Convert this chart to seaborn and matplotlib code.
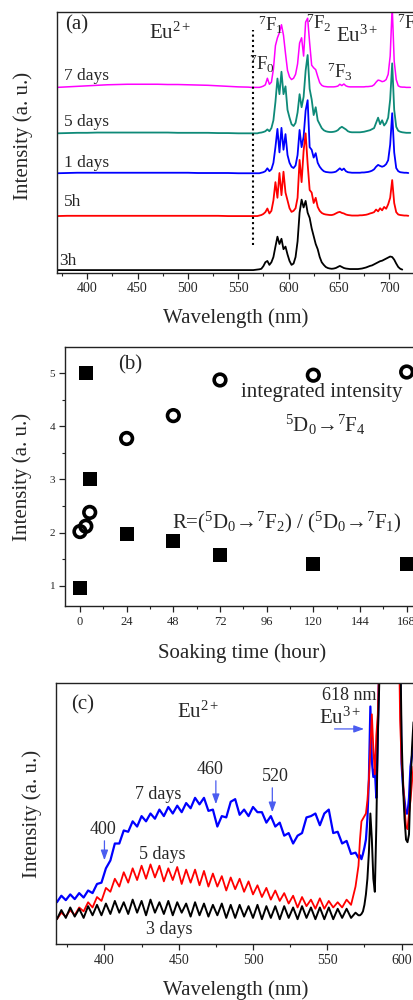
import numpy as np
import pandas as pd
import matplotlib
matplotlib.use("Agg")
import matplotlib.pyplot as plt
from matplotlib.ticker import MultipleLocator
import seaborn as sns

sns.set_theme(style="ticks")
plt.rcParams["font.family"] = ["Liberation Serif", "DejaVu Serif"]
plt.rcParams["mathtext.fontset"] = "custom"
plt.rcParams["mathtext.rm"] = "Liberation Serif"
plt.rcParams["mathtext.it"] = "Liberation Serif:italic"
plt.rcParams["mathtext.bf"] = "Liberation Serif:bold"
plt.rcParams["axes.linewidth"] = 1.0
plt.rcParams["axes.edgecolor"] = "#222222"

# ---------------- (a) PL spectra, stacked by soaking time ----------------
wl_a = list(range(370, 561, 10)) + list(range(563, 722, 2))
samples_a = ["7 days", "5 days", "1 days", "5h", "3h"]
offsets_a = [0.710, 0.534, 0.381, 0.217, 0.010]
colors_a = ["#ff00ff", "#0e8a78", "#0000ff", "#ff0000", "#000000"]
widths_a = [1.1, 1.3, 1.3, 1.3, 1.3]

spec_7d = [0, .002, .004, .006, .008, .010, .011, .012, .012, .012,
           .012, .011, .011, .010, .009, .008, .006, .004, .002, .001,
           0, 0, 0, 0, 0, .002, .005, .010, .035, .012,
           .020, .070, .160, .190, .210, .240, .200, .130, .065, .040,
           .030, .035, .050, .090, .170, .190, .120, .250, .265, .170,
           .085, .075, .068, .042, .018, .008, .004, .003, .002, .002,
           .002, .002, .003, .005, .012, .007, .013, .006, .003, .002,
           .002, .002, .002, .002, .002, .002, .002, .003, .003, .004,
           .005, .010, .020, .028, .026, .022, .024, .030, .050, .120,
           .310, .100, .030, .006, .002, .001, .001, 0, 0, 0]
spec_5d = [0, .001, .002, .002, .003, .003, .003, .003, .003, .003,
           .003, .003, .002, .002, .002, .002, .001, .001, 0, 0,
           0, 0, 0, 0, .002, .003, .005, .008, .015, .008,
           .020, .050, .120, .210, .150, .236, .150, .180, .090, .060,
           .035, .028, .040, .080, .150, .100, .140, .240, .300, .170,
           .130, .070, .100, .050, .035, .020, .012, .008, .006, .005,
           .005, .006, .008, .012, .020, .025, .020, .015, .008, .005,
           .004, .004, .004, .004, .004, .005, .006, .008, .010, .012,
           .016, .020, .040, .060, .035, .050, .030, .040, .060, .130,
           .268, .090, .025, .010, .006, .004, .003, .002, .002, .002]
spec_1d = [0, .001, .002, .002, .002, .002, .002, .002, .002, .002,
           .002, .002, .002, .002, .001, .001, .001, .001, 0, 0,
           0, 0, 0, 0, 0, .002, .004, .008, .019, .008,
           .015, .040, .100, .170, .080, .174, .090, .150, .070, .040,
           .025, .020, .030, .070, .166, .100, .140, .240, .280, .100,
           .090, .060, .077, .040, .025, .015, .008, .005, .004, .003,
           .003, .004, .006, .012, .019, .012, .018, .008, .004, .003,
           .002, .002, .002, .002, .002, .003, .003, .004, .005, .007,
           .010, .015, .025, .032, .028, .025, .028, .035, .050, .110,
           .230, .080, .020, .008, .004, .003, .002, .002, .001, np.nan]
spec_5h = [0, .001, .001, .001, .001, .001, .001, .001, .001, .001,
           .001, .001, .001, .001, .001, .001, .001, 0, 0, 0,
           0, 0, 0, 0, .002, .004, .008, .015, .029, .010,
           .020, .060, .130, .070, .165, .080, .170, .090, .060, .030,
           .016, .020, .030, .070, .215, .130, .250, .317, .200, .100,
           .090, .050, .070, .035, .020, .012, .008, .006, .005, .004,
           .004, .006, .010, .014, .016, .012, .010, .006, .004, .003,
           .002, .002, .002, .002, .003, .003, .004, .005, .007, .010,
           .012, .015, .025, .018, .030, .022, .035, .028, .045, .070,
           .138, .050, .015, .006, .004, .003, .002, .002, .001, np.nan]
spec_3h = [0, 0, 0, 0, 0, 0, 0, 0, 0, 0,
           0, 0, 0, 0, 0, 0, 0, 0, 0, 0,
           0, 0, .001, .002, .003, .005, .015, .030, .035, .020,
           .030, .050, .090, .128, .100, .120, .080, .090, .060, .035,
           .020, .025, .050, .110, .220, .270, .240, .265, .220, .200,
           .160, .130, .100, .080, .050, .030, .020, .012, .008, .006,
           .005, .006, .008, .012, .016, .012, .008, .006, .005, .004,
           .004, .004, .004, .004, .005, .006, .008, .010, .013, .016,
           .018, .022, .026, .030, .034, .036, .040, .044, .048, .052,
           .050, .040, .025, .012, .005, .002, np.nan, np.nan, np.nan, np.nan]
spectra_a = [spec_7d, spec_5d, spec_1d, spec_5h, spec_3h]

# ---------------- (b) soaking-time dependence ----------------
hours = [0, 3, 5, 24, 48, 72, 120, 168]
integrated_f4 = [2.02, 2.12, 2.38, 3.77, 4.20, 4.87, 4.96, 5.02]
ratio_r = [0.95, 5.00, 3.00, 1.97, 1.84, 1.57, 1.41, 1.41]

# ---------------- (c) Eu2+ band region ----------------
wl_c = list(range(368, 570, 3)) + list(range(571, 609))
samples_c = ["7 days", "5 days", "3 days"]
colors_c = ["#0000ff", "#ff0000", "#000000"]
widths_c = [1.6, 1.3, 1.4]
band_7d = [.160, .185, .168, .190, .172, .195, .178, .205, .195, .230,
           .235, .290, .320, .385, .385, .435, .430, .470, .450, .490,
           .470, .500, .480, .515, .490, .525, .500, .530, .505, .540,
           .520, .560, .535, .560, .510, .515, .450, .490, .485, .545,
           .555, .495, .515, .490, .525, .505, .505, .465, .490, .450,
           .465, .415, .425, .385, .415, .425, .485, .490, .500, .455,
           .500, .515, .425, .430, .385, .395, .345, .350,
           .330, .340, .325, .345, .370, .400, .480, .630, .910, .700,
           .640, .670, .560, .800, 1.10, 1.30, 1.30, 1.30, 1.30, 1.30,
           1.30, 1.30, 1.30, 1.30, 1.30, 1.30, 1.30, 1.30, 1.10, .690,
           .600, .550, .500, .500, .560, .680, .720, .750]
band_5d = [.095, .120, .105, .130, .110, .140, .125, .160, .140, .180,
           .165, .215, .200, .250, .220, .275, .235, .290, .245, .300,
           .250, .305, .255, .300, .240, .290, .245, .295, .230, .285,
           .235, .285, .225, .280, .220, .270, .220, .260, .205, .255,
           .210, .250, .200, .240, .190, .225, .180, .215, .170, .205,
           .165, .195, .155, .185, .140, .180, .145, .170, .135, .175,
           .135, .165, .140, .160, .140, .170, .150, .220,
           .300, .400, .470, .480, .490, .500, .550, .630, .750, .880,
           .750, .650, .800, .880, 1.10, 1.30, 1.30, 1.30, 1.30, 1.30,
           1.30, 1.30, 1.30, 1.30, 1.30, 1.30, 1.30, 1.30, .860, .700,
           .630, .520, .450, .440, .500, .550, .620, .680]
band_3d = [.095, .130, .100, .140, .105, .135, .100, .145, .110, .150,
           .110, .155, .115, .165, .120, .160, .115, .170, .120, .165,
           .110, .170, .120, .160, .115, .165, .110, .160, .120, .155,
           .105, .160, .110, .155, .105, .150, .110, .155, .100, .150,
           .100, .150, .105, .145, .100, .150, .095, .145, .100, .145,
           .095, .145, .100, .140, .095, .145, .100, .140, .095, .140,
           .095, .140, .095, .135, .100, .135, .100, .120,
           .110, .110, .115, .125, .150, .190, .250, .350, .500, .400,
           .250, .200, .450, .800, 1.00, 1.30, 1.30, 1.30, 1.30, 1.30,
           1.30, 1.30, 1.30, 1.30, 1.30, 1.30, 1.30, 1.30, 1.20, .800,
           .600, .480, .400, .390, .420, .600, .750, .850]
bands_c = [band_7d, band_5d, band_3d]

TXT = 15
fig = plt.figure(figsize=(4.13, 10.0), dpi=100)


def style_axis(ax):
    ax.tick_params(axis="both", which="major", direction="out", length=4,
                   width=0.9, color="#222222", pad=3)
    ax.tick_params(axis="both", which="minor", direction="out", length=2,
                   width=0.8, color="#222222")
    for sp in ax.spines.values():
        sp.set_visible(True)
        sp.set_color("#222222")


# ===== panel (a) =====
ax_a = fig.add_axes([57 / 413, 1 - 272.7 / 1000, 382.5 / 413, 0.261])
for name, off, col, lw, rel in zip(samples_a, offsets_a, colors_a, widths_a, spectra_a):
    df = pd.DataFrame({"wl": wl_a, "I": np.array(rel, dtype=float) + off}).dropna()
    sns.lineplot(data=df, x="wl", y="I", ax=ax_a, color=col, linewidth=lw,
                 estimator=None, sort=False)
ax_a.set_xlim(370, 750)
ax_a.set_ylim(0, 1)
ax_a.set_yticks([])
ax_a.set_xticks(range(400, 701, 50))
ax_a.xaxis.set_minor_locator(MultipleLocator(25))
ax_a.tick_params(axis="x", labelsize=10)
style_axis(ax_a)
ax_a.vlines(565, 0.106, 0.93, colors="black", linestyles=(0, (1, 1.5)), linewidth=1.5)
ax_a.set_xlabel("Wavelength (nm)", fontsize=TXT)
ax_a.set_ylabel("Intensity (a. u.)", fontsize=TXT)
ax_a.xaxis.set_label_coords(0.468, -0.135)
ax_a.yaxis.set_label_coords(-0.063, 0.524)
label_y_a = [0.754, 0.579, 0.419, 0.272, 0.045]
for name, yy in zip(samples_a, label_y_a):
    ax_a.text(377 if name != "3h" else 372, yy, name, fontsize=12.5,
              ha="left", va="center")
ax_a.text(390, 0.949, "(a)", fontsize=TXT, ha="center", va="center")
ax_a.text(482, 0.918, "Eu$^{2+}$", fontsize=TXT, ha="center", va="center")
ax_a.text(668, 0.906, "Eu$^{3+}$", fontsize=TXT, ha="center", va="center")
ax_a.text(582, 0.949, "$^{7}$F$_{1}$", fontsize=13.5, ha="center", va="center")
ax_a.text(574, 0.800, "$^{7}$F$_{0}$", fontsize=13.5, ha="center", va="center")
ax_a.text(630, 0.957, "$^{7}$F$_{2}$", fontsize=13.5, ha="center", va="center")
ax_a.text(651, 0.768, "$^{7}$F$_{3}$", fontsize=13.5, ha="center", va="center")
ax_a.text(708, 0.957, "$^{7}$F$_{4}$", fontsize=13.5, ha="left", va="center")

# ===== panel (b) =====
ax_b = fig.add_axes([65 / 413, 0.394, 365 / 413, 0.259])
sns.scatterplot(x=hours, y=integrated_f4, ax=ax_b, marker="o", s=70,
                facecolor="none", edgecolor="black", linewidth=2.6, zorder=3)
sns.scatterplot(x=hours, y=ratio_r, ax=ax_b, marker="s", s=110,
                color="black", linewidth=0, zorder=3)
ax_b.set_xlim(-7.7, 180)
ax_b.set_ylim(0.62, 5.49)
ax_b.set_xticks(range(0, 169, 24))
ax_b.set_yticks([1, 2, 3, 4, 5])
ax_b.xaxis.set_minor_locator(MultipleLocator(12))
ax_b.yaxis.set_minor_locator(MultipleLocator(0.5))
ax_b.tick_params(axis="x", labelsize=9)
ax_b.tick_params(axis="y", labelsize=8)
style_axis(ax_b)
ax_b.set_xlabel("Soaking time (hour)", fontsize=TXT)
ax_b.set_ylabel("Intensity (a. u.)", fontsize=TXT)
ax_b.xaxis.set_label_coords(0.486, -0.143)
ax_b.yaxis.set_label_coords(-0.09, 0.498)
ax_b.text(25.7, 5.15, "(b)", fontsize=TXT, ha="center", va="center")
ax_b.text(124.5, 4.63, "integrated intensity", fontsize=TXT, ha="center", va="center")
ax_b.text(126, 4.03, "$^{5}$D$_{0}$\u2192$^{7}$F$_{4}$", fontsize=TXT,
          ha="center", va="center")
ax_b.text(106.5, 2.19,
          "R=($^{5}$D$_{0}$\u2192$^{7}$F$_{2}$) / ($^{5}$D$_{0}$\u2192$^{7}$F$_{1}$)",
          fontsize=TXT, ha="center", va="center")

# ===== panel (c) =====
ax_c = fig.add_axes([56 / 413, 0.056, 405 / 413, 0.261])
for name, col, lw, vals in zip(samples_c, colors_c, widths_c, bands_c):
    df = pd.DataFrame({"wl": wl_c, "I": vals})
    sns.lineplot(data=df, x="wl", y="I", ax=ax_c, color=col, linewidth=lw,
                 estimator=None, sort=False)
ax_c.set_xlim(367.4, 640)
ax_c.set_ylim(0, 1)
ax_c.set_yticks([])
ax_c.set_xticks(range(400, 601, 50))
ax_c.xaxis.set_minor_locator(MultipleLocator(25))
ax_c.tick_params(axis="x", labelsize=10)
style_axis(ax_c)
ax_c.set_xlabel("Wavelength (nm)", fontsize=TXT)
ax_c.set_ylabel("Intensity (a. u.)", fontsize=TXT)
ax_c.xaxis.set_label_coords(0.443, -0.138)
ax_c.yaxis.set_label_coords(-0.035, 0.498)
arrow_kw = dict(arrowstyle="-|>,head_length=0.5,head_width=0.18", color="#4a5cf0", lw=0.9)
ax_c.text(385, 0.916, "(c)", fontsize=TXT, ha="center", va="center")
ax_c.text(463, 0.89, "Eu$^{2+}$", fontsize=TXT, ha="center", va="center")
ax_c.text(564.5, 0.954, "618 nm", fontsize=13, ha="center", va="center")
ax_c.text(559, 0.866, "Eu$^{3+}$", fontsize=TXT, ha="center", va="center")
ax_c.annotate("", xy=(576.6, 0.824), xytext=(553, 0.824), arrowprops=arrow_kw)
ax_c.text(471, 0.667, "460", fontsize=13, ha="center", va="center")
ax_c.annotate("", xy=(475, 0.525), xytext=(475, 0.636), arrowprops=arrow_kw)
ax_c.text(515, 0.640, "520", fontsize=13, ha="center", va="center")
ax_c.annotate("", xy=(513, 0.494), xytext=(513, 0.609), arrowprops=arrow_kw)
ax_c.text(399, 0.437, "400", fontsize=13, ha="center", va="center")
ax_c.annotate("", xy=(400, 0.31), xytext=(400, 0.406), arrowprops=arrow_kw)
ax_c.text(436.4, 0.571, "7 days", fontsize=13, ha="center", va="center")
ax_c.text(439, 0.341, "5 days", fontsize=13, ha="center", va="center")
ax_c.text(443.8, 0.054, "3 days", fontsize=13, ha="center", va="center")

fig.savefig("out.png", dpi=100, facecolor="white")
